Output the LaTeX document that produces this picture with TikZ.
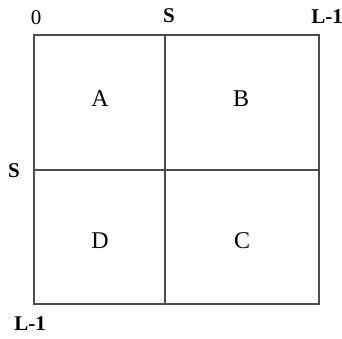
\documentclass[tikz,border=0pt]{standalone}
\usepackage{fontspec}
\setmainfont{Liberation Serif}
\begin{document}
\begin{tikzpicture}[x=1pt, y=-1pt, font=\fontsize{21}{24}\selectfont,
	part/.style={font=\fontsize{24}{28}\selectfont},
	mark label/.style={font=\fontsize{21}{24}\selectfont\bfseries}]
		\useasboundingbox (0,0) rectangle (342,338);
		% image plane split into four blocks
		\draw[line width=1.6pt, black!70] (34,35) rectangle (319,304);
		\draw[line width=1.6pt, black!70] (165,35) -- (165,304);
		\draw[line width=1.6pt, black!70] (34,170) -- (319,170);
		% blocks
		\node[part] (blockA) at (100,99) {A};
		\node[part] (blockB) at (241,99) {B};
		\node[part] (blockD) at (100,241) {D};
		\node[part] (blockC) at (242,241) {C};
		% axis marks
		\node (origin) at (36,18) {0};
		\node[mark label] (splitx) at (169,16) {S};
		\node[mark label] (endx) at (327,17) {L-1};
		\node[mark label] (splity) at (14,171) {S};
		\node[mark label] (endy) at (30,324) {L-1};
	\end{tikzpicture}
\end{document}
